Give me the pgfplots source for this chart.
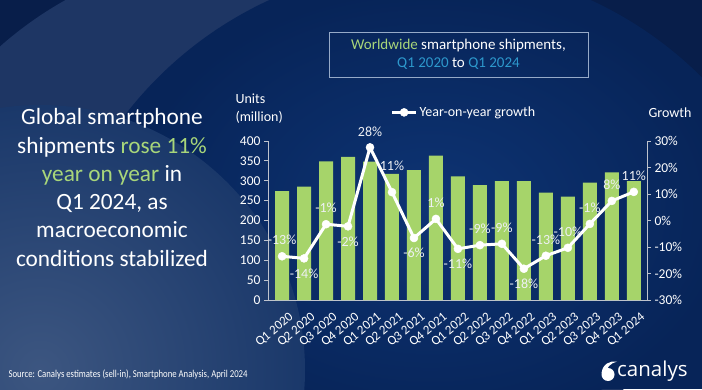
\documentclass[border=0pt]{standalone}
\usepackage{pgfplots}
\pgfplotsset{compat=1.18}
\usepackage{fontspec}
\setmainfont{Carlito}
\newfontfamily\srcfont[FakeStretch=0.83]{Carlito}
\newfontfamily\logofont{Open Sans}
\definecolor{bgDark}{RGB}{8,30,74}
\definecolor{lightA}{RGB}{30,54,100}
\definecolor{bgB}{RGB}{7,36,88}
\definecolor{bgBc}{RGB}{14,52,116}
\definecolor{lightC}{RGB}{26,56,106}
\definecolor{barg}{RGB}{166,212,106}
\definecolor{tgreen}{RGB}{168,214,122}
\definecolor{tcyan}{RGB}{45,152,204}
\definecolor{axgray}{RGB}{190,195,205}
\definecolor{boxc}{RGB}{150,170,200}
\definecolor{lbl}{RGB}{238,240,244}
\begin{document}
\begin{tikzpicture}
\begin{scope}[x=1pt,y=1pt]
\fill[bgDark] (0,0) rectangle (702,389);
\begin{scope}
\clip (0,0) rectangle (702,389);
\fill[lightA] (250,59) circle (378);
\begin{scope}
\clip (430,39) circle (385);
\fill[bgB] (0,0) rectangle (702,389);
\shade[inner color=bgBc, outer color=bgB] (430,180) ellipse (300 and 220);
\end{scope}
\shade[inner color=lightC!85!white, outer color=lightC] (40,19) circle (265);
\end{scope}
\end{scope}

\begin{axis}[
  at={(268pt,89pt)}, anchor=south west, scale only axis, width=379pt, height=159pt,
  xmin=-0.64, xmax=16.6, ymin=0, ymax=400, enlargelimits=false,
  axis y line*=left, axis x line*=bottom,
  axis line style={axgray, line width=0.8pt},
  ytick={0,50,...,400}, tick align=outside, major tick length=4pt,
  ytick style={axgray, line width=0.8pt},
  xtick={0,...,16}, xtick style={draw=none},
  xticklabels={Q1 2020,Q2 2020,Q3 2020,Q4 2020,Q1 2021,Q2 2021,Q3 2021,Q4 2021,Q1 2022,Q2 2022,Q3 2022,Q4 2022,Q1 2023,Q2 2023,Q3 2023,Q4 2023,Q1 2024},
  xticklabel style={rotate=40, anchor=east, inner sep=0pt, yshift=-15pt, font=\fontsize{13}{13}\selectfont, text=white},
  yticklabel style={font=\fontsize{13.5}{14}\selectfont, text=white},
  /pgf/number format/assume math mode=true,
  ylabel={Units\\(million)},
  ylabel style={rotate=-90, align=left, at={(axis description cs:-0.095,1.09)}, anchor=south west, text=white, font=\fontsize{14}{18}\selectfont},
]
\addplot[ybar, bar width=14pt, fill=barg, draw=none] coordinates {
(0,274) (1,285) (2,349) (3,360) (4,348) (5,317) (6,327) (7,363) (8,311) (9,289) (10,299) (11,299) (12,270) (13,260) (14,295) (15,321) (16,299)};
\end{axis}

\begin{axis}[
  at={(268pt,89pt)}, anchor=south west, scale only axis, width=379pt, height=159pt,
  xmin=-0.64, xmax=16.6, ymin=-30, ymax=30, enlargelimits=false,
  axis y line*=right, axis x line=none,
  axis line style={axgray, line width=0.8pt},
  ytick={-30,-20,...,30}, yticklabels={-30\%,-20\%,-10\%,0\%,10\%,20\%,30\%},
  tick align=outside, major tick length=4pt,
  ytick style={axgray, line width=0.8pt},
  yticklabel style={font=\fontsize{13.5}{14}\selectfont, text=white, anchor=west},
  ylabel={Growth},
  ylabel style={rotate=-90, at={(axis description cs:0.995,1.18)}, anchor=west, text=white, font=\fontsize{14}{18}\selectfont},
  legend style={at={(axis description cs:0.517,1.18)}, anchor=center, draw=none, fill=none, text=white, font=\fontsize{14}{16}\selectfont, inner sep=0pt},
  legend image code/.code={\draw[mark repeat=2,mark phase=2,#1] plot coordinates {(0pt,0pt) (12pt,0pt) (24pt,0pt)};},
]
\addplot[white, line width=3pt, mark=*, mark size=4pt, mark options={fill=white, line width=0.5pt}] coordinates {
(0,-13.5) (1,-14.3) (2,-1.4) (3,-2.2) (4,27.6) (5,10.7) (6,-6.6) (7,0.6) (8,-10.7) (9,-9.3) (10,-8.8) (11,-18.2) (12,-13.3) (13,-10.3) (14,-1.3) (15,7.4) (16,10.8)};
\addlegendentry{Year-on-year growth}
\addplot[draw=none, forget plot, nodes near coords, point meta=explicit symbolic,
  nodes near coords style={anchor=center, yshift=16pt, text=lbl, font=\fontsize{14}{14}\selectfont}]
  table[meta=l] {
x y l
0 -13.5 -13\%
2 -1.4 -1\%
4 27.6 28\%
7 0.6 1\%
9 -9.3 -9\%
10 -8.8 -9\%
12 -13.3 -13\%
13 -10.3 -10\%
14 -1.3 -1\%
15 7.4 8\%
16 10.8 11\%
};
\addplot[draw=none, forget plot, nodes near coords, point meta=explicit symbolic,
  nodes near coords style={anchor=center, yshift=-15pt, text=lbl, font=\fontsize{14}{14}\selectfont}]
  table[meta=l] {
x y l
1 -14.3 -14\%
3 -2.2 -2\%
6 -6.6 -6\%
8 -10.7 -11\%
11 -18.2 -18\%
};
\addplot[draw=none, forget plot, nodes near coords, point meta=explicit symbolic,
  nodes near coords style={anchor=center, yshift=26pt, text=lbl, font=\fontsize{14}{14}\selectfont}]
  table[meta=l] {
x y l
5 10.7 11\%
};
\end{axis}

\begin{scope}[x=1pt,y=1pt]
\node[draw=boxc, line width=0.8pt, minimum width=259pt, minimum height=45pt, inner sep=0pt, align=center, font=\fontsize{15}{17.5}\selectfont, text=white] at (458.5,334.5) {\textcolor{tgreen}{Worldwide} smartphone shipments,\\\textcolor{tcyan}{Q1 2020} to \textcolor{tcyan}{Q1 2024}};

\node[align=center, text=white, font=\fontsize{23.3}{28.3}\selectfont] at (112,201.5) {Global smartphone\\shipments \textcolor{tgreen}{rose 11\%}\\\textcolor{tgreen}{year on year} in\\Q1 2024, as\\macroeconomic\\conditions stabilized};

\node[anchor=west, text=white, font=\srcfont\fontsize{10.5}{12}\selectfont] at (5,14) {Source: Canalys estimates (sell-in), Smartphone Analysis, April 2024};

\fill[white] (608,14.5) circle (6.5);
\fill[white] (601.6,16) .. controls (602.5,25) and (610,28.5) .. (617,27.5) .. controls (610,25.5) and (606.5,21.5) .. (606,16) -- cycle;
\node[anchor=west, inner sep=0pt, text=white, font=\logofont\fontsize{20.5}{21}\selectfont] at (617,18) {canalys};
\end{scope}
\end{tikzpicture}
\end{document}
